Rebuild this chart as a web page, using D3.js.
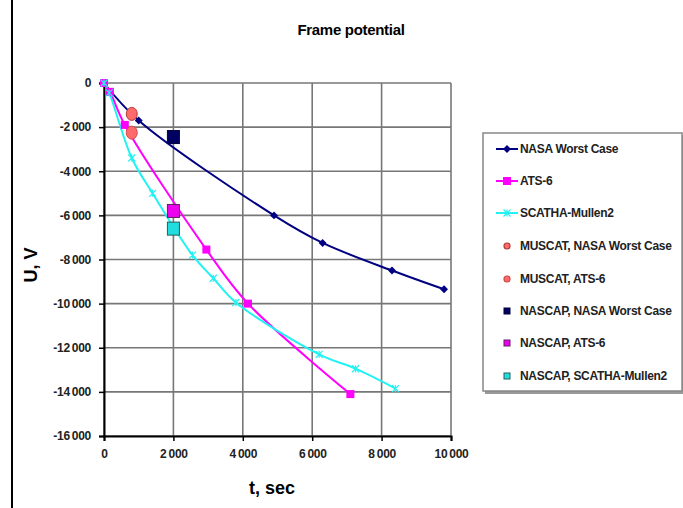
<!DOCTYPE html>
<html>
<head>
<meta charset="utf-8">
<script src="https://cdn.jsdelivr.net/npm/d3@7"></script>
<style>
  body { margin: 0; background: #fff; }
  svg { font-family: "Liberation Sans", Arial, sans-serif; }
</style>
</head>
<body>
<div id="graph01"></div>
<script>
// 曲線データ
const nasaT = [0, 1000, 4900, 6300, 8300, 9800];
const nasaU = [0, -1700, -6000, -7250, -8500, -9350];
const atsT = [0, 170, 600, 2950, 4150, 7100];
const atsU = [0, -400, -1900, -7550, -10000, -14100];
const scathaT = [0, 150, 800, 1400, 2550, 3150, 3800, 6200, 7250, 8400];
const scathaU = [0, -450, -3400, -5000, -7800, -8850, -9950, -12300, -12950, -13850];

// 点データ
const muscatNasa = [[800, -1400]];
const muscatAts = [[800, -2250]];
const nascapNasa = [[2000, -2450]];
const nascapAts = [[2000, -5800]];
const nascapScatha = [[2000, -6600]];

// 目盛
const xTicks = [0, 2000, 4000, 6000, 8000, 10000];
const yTicks = [0, -2000, -4000, -6000, -8000, -10000, -12000, -14000, -16000];

const legendNames = [
  "NASA Worst Case", "ATS-6", "SCATHA-Mullen2",
  "MUSCAT, NASA Worst Case", "MUSCAT, ATS-6",
  "NASCAP, NASA Worst Case", "NASCAP, ATS-6", "NASCAP, SCATHA-Mullen2"
];

const W = 683, H = 508;
const svg = d3.select("#graph01").append("svg").attr("width", W).attr("height", H);

// ページの左の枠線
svg.append("line").attr("x1", 12).attr("x2", 12).attr("y1", 0).attr("y2", H)
  .attr("stroke", "#000").attr("stroke-width", 2);

const x = d3.scaleLinear().domain([0, 10000]).range([104, 451]);
const y = d3.scaleLinear().domain([-16000, 0]).range([436, 83]);

const fmt = v => d3.format(",")(v).replace(/,/g, "\u2009").replace("\u2212", "-");

// グリッド
svg.append("g").selectAll("line").data(yTicks).join("line")
  .attr("x1", x(0)).attr("x2", x(10000))
  .attr("y1", d => y(d)).attr("y2", d => y(d))
  .attr("stroke", "#777").attr("stroke-width", 1.6);
svg.append("g").selectAll("line").data(xTicks).join("line")
  .attr("x1", d => x(d)).attr("x2", d => x(d))
  .attr("y1", y(0)).attr("y2", y(-16000))
  .attr("stroke", "#777").attr("stroke-width", 1.6);

// 軸
const axisY = svg.append("g").attr("transform", "translate(" + x(0) + ",0)")
  .call(d3.axisLeft(y).tickValues(yTicks).tickSize(5).tickPadding(8).tickFormat(fmt));
const axisX = svg.append("g").attr("transform", "translate(0," + y(-16000) + ")")
  .call(d3.axisBottom(x).tickValues(xTicks).tickSize(5).tickPadding(8).tickFormat(fmt));
[axisX, axisY].forEach(a => {
  a.select(".domain").attr("stroke", "#000").attr("stroke-width", 2);
  a.selectAll(".tick line").attr("stroke", "#000").attr("stroke-width", 1.5);
  a.selectAll("text").attr("font-size", 12).attr("font-weight", "bold")
    .attr("fill", "#222").attr("letter-spacing", -0.3)
    .attr("font-family", "Liberation Sans, Arial, sans-serif");
});

// タイトルとラベル
svg.append("text").attr("x", 351).attr("y", 35).attr("text-anchor", "middle")
  .attr("font-size", 15).attr("font-weight", "bold").attr("letter-spacing", -0.3)
  .text("Frame potential");
svg.append("text").attr("x", 272).attr("y", 494).attr("text-anchor", "middle")
  .attr("font-size", 18).attr("font-weight", "bold").text("t, sec");
svg.append("text").attr("transform", "translate(37,265) rotate(-90)")
  .attr("text-anchor", "middle").attr("font-size", 18).attr("font-weight", "bold").text("U, V");

// マーカー
const diamond = d3.symbol().type(d3.symbolDiamond2).size(40);
const crossPath = s => "M" + (-s) + "," + (-s) + "L" + s + "," + s + "M" + (-s) + "," + s + "L" + s + "," + (-s) + "M0," + (-s) + "L0," + s;

const series = [
  { t: nasaT, u: nasaU, color: "#000080", marker: "diamond" },
  { t: atsT, u: atsU, color: "#ff00ff", marker: "square" },
  { t: scathaT, u: scathaU, color: "#22f2f2", marker: "cross" }
];

function drawMarker(g, kind, color, px, py) {
  if (kind === "diamond") {
    g.append("path").attr("d", diamond()).attr("transform", "translate(" + px + "," + py + ")")
      .attr("fill", color);
  } else if (kind === "square") {
    g.append("rect").attr("x", px - 4).attr("y", py - 4).attr("width", 8).attr("height", 8)
      .attr("fill", color);
  } else if (kind === "cross") {
    g.append("path").attr("d", crossPath(3.5)).attr("transform", "translate(" + px + "," + py + ")")
      .attr("stroke", color).attr("stroke-width", 1.2).attr("fill", "none");
  }
}

const line = d3.line().curve(d3.curveCatmullRom.alpha(0.5))
  .x(d => x(d[0])).y(d => y(d[1]));

series.forEach(s => {
  const pts = s.t.map((t, i) => [t, s.u[i]]);
  svg.append("path").datum(pts).attr("d", line)
    .attr("fill", "none").attr("stroke", s.color).attr("stroke-width", 2);
});
series.forEach(s => {
  const g = svg.append("g");
  s.t.forEach((t, i) => drawMarker(g, s.marker, s.color, x(t), y(s.u[i])));
});

// 点
const pointSets = [
  { data: muscatNasa, kind: "circle", fill: "#ff6b6b", stroke: "#b03a3a" },
  { data: muscatAts, kind: "circle", fill: "#ff6b6b", stroke: "#d04848" },
  { data: nascapNasa, kind: "rect", fill: "#000060", stroke: "#000040" },
  { data: nascapAts, kind: "rect", fill: "#ee00ee", stroke: "#602060" },
  { data: nascapScatha, kind: "rect", fill: "#22dddd", stroke: "#206060" }
];
pointSets.forEach(p => {
  const g = svg.append("g");
  p.data.forEach(d => {
    if (p.kind === "circle") {
      g.append("ellipse").attr("cx", x(d[0])).attr("cy", y(d[1])).attr("rx", 5.5).attr("ry", 6.5)
        .attr("fill", p.fill).attr("stroke", p.stroke).attr("stroke-width", 1);
    } else {
      g.append("rect").attr("x", x(d[0]) - 6).attr("y", y(d[1]) - 6.5)
        .attr("width", 12).attr("height", 13)
        .attr("fill", p.fill).attr("stroke", p.stroke).attr("stroke-width", 1);
    }
  });
});

// 凡例
const lg = svg.append("g");
lg.append("rect").attr("x", 485).attr("y", 135).attr("width", 200).attr("height", 259)
  .attr("fill", "#999");
lg.append("rect").attr("x", 483).attr("y", 133).attr("width", 199).attr("height", 258)
  .attr("fill", "#fff").attr("stroke", "#888").attr("stroke-width", 1.5);

const legendY = [149, 181, 213, 246, 279, 311, 343, 376];
legendNames.forEach((name, i) => {
  const ly = legendY[i];
  if (i < 3) {
    const s = series[i];
    lg.append("line").attr("x1", 496).attr("x2", 518).attr("y1", ly).attr("y2", ly)
      .attr("stroke", s.color).attr("stroke-width", 2);
    drawMarker(lg, s.marker, s.color, 507, ly);
  } else {
    const p = pointSets[i - 3];
    if (p.kind === "circle") {
      lg.append("circle").attr("cx", 507).attr("cy", ly).attr("r", 3)
        .attr("fill", p.fill).attr("stroke", p.stroke).attr("stroke-width", 1.2);
    } else {
      lg.append("rect").attr("x", 504).attr("y", ly - 3).attr("width", 6).attr("height", 6)
        .attr("fill", p.fill).attr("stroke", p.stroke).attr("stroke-width", 1);
    }
  }
  lg.append("text").attr("x", 520).attr("y", ly + 4).attr("font-size", 12)
    .attr("font-weight", "bold").attr("fill", "#222").attr("letter-spacing", -0.3).text(name);
});
</script>
</body>
</html>
